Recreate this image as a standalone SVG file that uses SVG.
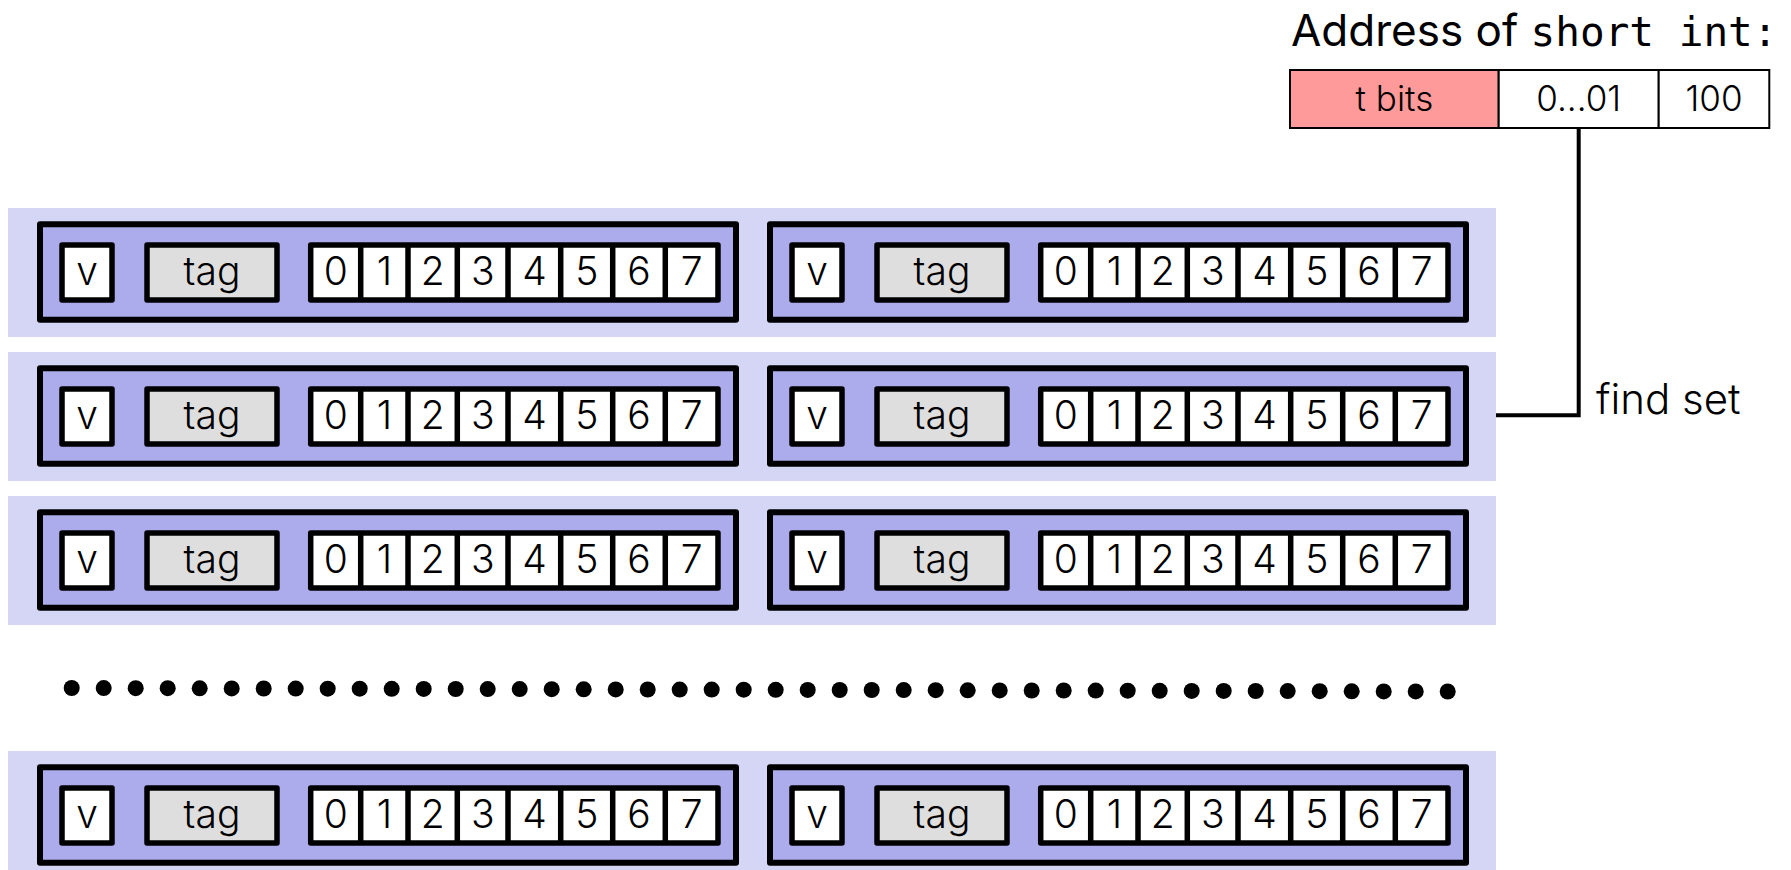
<svg xmlns="http://www.w3.org/2000/svg" width="1791" height="870" viewBox="0 0 1791 870">
<style>
.band{fill:#d5d5f5;stroke:none}
.way{fill:#acacec;stroke:#000;stroke-width:6;stroke-linejoin:round}
.cell{fill:#fff;stroke:#000;stroke-width:5.5;stroke-linejoin:round}
.tag{fill:#dedede;stroke:#000;stroke-width:5.5;stroke-linejoin:round}
.sep{stroke:#000;stroke-width:5.5}
.t{font-family:Inter,"Liberation Sans",sans-serif;font-size:39px;font-weight:300;text-anchor:middle;fill:#000}
.a{font-family:Inter,"Liberation Sans",sans-serif;font-size:35px;font-weight:300;text-anchor:middle;fill:#000}
.addr{stroke:#000;stroke-width:2}
.conn{fill:none;stroke:#000;stroke-width:4}
.dot{fill:#000}
</style>
<defs>
<g id="wayTpl">
<rect class="way" x="40" y="16.3" width="696" height="95.4"/>
<rect class="cell" x="62" y="37" width="50" height="55"/>
<text class="t" x="87" y="77">v</text>
<rect class="tag" x="147" y="37" width="130" height="55"/>
<text class="t" x="212" y="77">tag</text>
<rect class="cell" x="310.7" y="37" width="407.3" height="55"/>
<path class="sep" d="M360.7 37V92M408 37V92M457.3 37V92M508 37V92M560.7 37V92M612.7 37V92M665.3 37V92"/>
<text class="t" x="335.7" y="77">0</text>
<text class="t" x="384.4" y="77">1</text>
<text class="t" x="432.7" y="77">2</text>
<text class="t" x="482.7" y="77">3</text>
<text class="t" x="534.4" y="77">4</text>
<text class="t" x="586.7" y="77">5</text>
<text class="t" x="639" y="77">6</text>
<text class="t" x="691.7" y="77">7</text>
</g>
</defs>
<g id="address">
<text x="1291" y="46" font-family="Inter,'Liberation Sans',sans-serif" font-size="44" fill="#000">Address of <tspan font-family="'DejaVu Sans Mono','Liberation Mono',monospace" font-size="41">short int:</tspan></text>
<rect class="addr" x="1290" y="70" width="208.7" height="58" fill="#ff9a9a"/>
<rect class="addr" x="1498.7" y="70" width="160" height="58" fill="#fff"/>
<rect class="addr" x="1658.7" y="70" width="110.6" height="58" fill="#fff"/>
<text class="a" x="1394.4" y="110.5">t bits</text>
<text class="a" x="1578.7" y="110.5">0...01</text>
<text class="a" x="1714" y="110.5">100</text>
</g>
<g id="set0" transform="translate(0,208)">
<rect class="band" x="8" y="0" width="1488" height="129"/>
<g id="set0-way0"><use href="#wayTpl"/></g>
<g id="set0-way1" transform="translate(730,0)"><use href="#wayTpl"/></g>
</g>
<g id="set1" transform="translate(0,352)">
<rect class="band" x="8" y="0" width="1488" height="129"/>
<g id="set1-way0"><use href="#wayTpl"/></g>
<g id="set1-way1" transform="translate(730,0)"><use href="#wayTpl"/></g>
</g>
<g id="set2" transform="translate(0,496)">
<rect class="band" x="8" y="0" width="1488" height="129"/>
<g id="set2-way0"><use href="#wayTpl"/></g>
<g id="set2-way1" transform="translate(730,0)"><use href="#wayTpl"/></g>
</g>
<g id="setN" transform="translate(0,751)">
<rect class="band" x="8" y="0" width="1488" height="129"/>
<g id="setN-way0"><use href="#wayTpl"/></g>
<g id="setN-way1" transform="translate(730,0)"><use href="#wayTpl"/></g>
</g>
<g id="ellipsis">
<circle class="dot" cx="71.7" cy="688" r="8"/><circle class="dot" cx="103.7" cy="688.1" r="8"/><circle class="dot" cx="135.7" cy="688.2" r="8"/><circle class="dot" cx="167.7" cy="688.2" r="8"/><circle class="dot" cx="199.7" cy="688.3" r="8"/><circle class="dot" cx="231.7" cy="688.4" r="8"/><circle class="dot" cx="263.7" cy="688.5" r="8"/><circle class="dot" cx="295.7" cy="688.6" r="8"/><circle class="dot" cx="327.7" cy="688.7" r="8"/><circle class="dot" cx="359.7" cy="688.7" r="8"/><circle class="dot" cx="391.7" cy="688.8" r="8"/>
<circle class="dot" cx="423.7" cy="688.9" r="8"/><circle class="dot" cx="455.7" cy="689" r="8"/><circle class="dot" cx="487.7" cy="689.1" r="8"/><circle class="dot" cx="519.7" cy="689.1" r="8"/><circle class="dot" cx="551.7" cy="689.2" r="8"/><circle class="dot" cx="583.7" cy="689.3" r="8"/><circle class="dot" cx="615.7" cy="689.4" r="8"/><circle class="dot" cx="647.7" cy="689.5" r="8"/><circle class="dot" cx="679.7" cy="689.6" r="8"/><circle class="dot" cx="711.7" cy="689.6" r="8"/><circle class="dot" cx="743.7" cy="689.7" r="8"/>
<circle class="dot" cx="775.7" cy="689.8" r="8"/><circle class="dot" cx="807.7" cy="689.9" r="8"/><circle class="dot" cx="839.7" cy="690" r="8"/><circle class="dot" cx="871.7" cy="690" r="8"/><circle class="dot" cx="903.7" cy="690.1" r="8"/><circle class="dot" cx="935.7" cy="690.2" r="8"/><circle class="dot" cx="967.7" cy="690.3" r="8"/><circle class="dot" cx="999.7" cy="690.4" r="8"/><circle class="dot" cx="1031.7" cy="690.5" r="8"/><circle class="dot" cx="1063.7" cy="690.5" r="8"/><circle class="dot" cx="1095.7" cy="690.6" r="8"/>
<circle class="dot" cx="1127.7" cy="690.7" r="8"/><circle class="dot" cx="1159.7" cy="690.8" r="8"/><circle class="dot" cx="1191.7" cy="690.9" r="8"/><circle class="dot" cx="1223.7" cy="690.9" r="8"/><circle class="dot" cx="1255.7" cy="691" r="8"/><circle class="dot" cx="1287.7" cy="691.1" r="8"/><circle class="dot" cx="1319.7" cy="691.2" r="8"/><circle class="dot" cx="1351.7" cy="691.3" r="8"/><circle class="dot" cx="1383.7" cy="691.4" r="8"/><circle class="dot" cx="1415.7" cy="691.4" r="8"/><circle class="dot" cx="1447.7" cy="691.5" r="8"/>
</g>
<g id="connectors">
<path class="conn" d="M1578.7 128V415.3H1496"/>
</g>
<g id="label-find-set">
<text x="1596" y="413.5" font-family="Inter,'Liberation Sans',sans-serif" font-size="42" font-weight="300" fill="#000">find set</text>
</g>
</svg>
